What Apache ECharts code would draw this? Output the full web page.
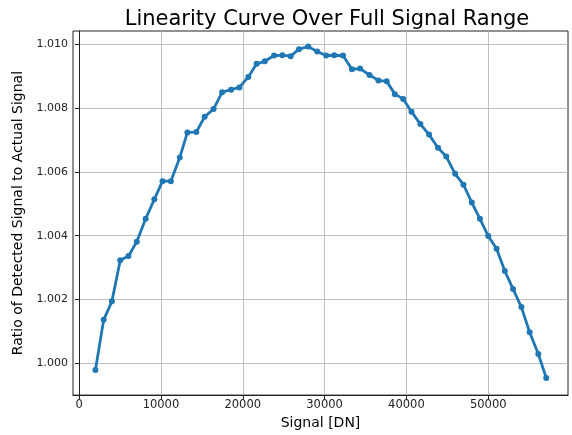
<!DOCTYPE html>
<html>
<head>
<meta charset="utf-8">
<script src="https://cdn.jsdelivr.net/npm/echarts@6/dist/echarts.min.js"></script>
<style>html,body{margin:0;padding:0;background:#fff}#c{width:572px;height:435px}</style>
</head>
<body>
<div id="c"></div>
<script>
const signal = [1990,3000,4005,5024,6030,7040,8130,9190,10190,11210,12300,13230,14320,15340,16430,17480,18570,19590,20680,21690,22690,23830,24840,25850,26870,28000,29090,30190,31190,32250,33340,34340,35490,36580,37590,38590,39610,40620,41710,42770,43860,44870,45960,46970,47990,48990,50000,51020,52030,53030,54050,55060,56120,57090];
const ratio = [0.99979,1.00136,1.00194,1.00323,1.00336,1.00381,1.00453,1.00514,1.00571,1.00571,1.00645,1.00724,1.00725,1.00773,1.00797,1.0085,1.00858,1.00865,1.00898,1.00939,1.00947,1.00965,1.00966,1.00963,1.00985,1.00993,1.00978,1.00965,1.00966,1.00965,1.00922,1.00924,1.00904,1.00887,1.00884,1.00844,1.00829,1.00789,1.0075,1.00717,1.00676,1.00648,1.00594,1.0056,1.00504,1.00453,1.00399,1.00359,1.00289,1.00233,1.00176,1.00097,1.00029,0.99954];
const xTicks = [0,10000,20000,30000,40000,50000];
const yTicks = [1.000,1.002,1.004,1.006,1.008,1.010];

const chart = echarts.init(document.getElementById('c'));
const font = 'DejaVu Sans';
chart.setOption({
  animation: false,
  title: {
    text: 'Linearity Curve Over Full Signal Range',
    left: 322, top: 4, textAlign: 'center',
    textStyle: {fontFamily: font, fontSize: 21, fontWeight: 'normal', color: '#000'}
  },
  grid: {left: 73, right: 4, top: 31, bottom: 33, show: true, borderColor: '#222', borderWidth: 1, containLabel: false},
  xAxis: {
    type: 'value', min: -750, max: 59750,
    name: 'Signal [DN]', nameLocation: 'middle', nameGap: 19,
    nameTextStyle: {fontFamily: font, fontSize: 14, color: '#000'},
    axisLine: {show: true, lineStyle: {color: '#222'}},
    axisTick: {show: true, length: 4, inside: false, customValues: xTicks, lineStyle: {color: '#222'}},
    axisLabel: {fontFamily: font, fontSize: 11.5, color: '#222', margin: 4, customValues: xTicks,
      formatter: v => String(v)},
    splitLine: {show: true, lineStyle: {color: '#b0b0b0', width: 0.8}}
  },
  yAxis: {
    type: 'value', min: 0.999, max: 1.01042,
    name: 'Ratio of Detected Signal to Actual Signal', nameLocation: 'middle', nameGap: 42,
    nameTextStyle: {fontFamily: font, fontSize: 14, color: '#000'},
    axisLine: {show: true, lineStyle: {color: '#222'}},
    axisTick: {show: true, length: 4, inside: false, customValues: yTicks, lineStyle: {color: '#222'}},
    axisLabel: {fontFamily: font, fontSize: 11, color: '#222', margin: 5, customValues: yTicks,
      formatter: v => v.toFixed(3)},
    splitLine: {show: true, lineStyle: {color: '#b0b0b0', width: 0.8}}
  },
  series: [{
    type: 'line',
    data: signal.map((s, i) => [s, ratio[i]]),
    symbol: 'circle', symbolSize: 6,
    lineStyle: {color: '#1f77b4', width: 2.8},
    itemStyle: {color: '#1f77b4'}
  }]
});
</script>
</body>
</html>
